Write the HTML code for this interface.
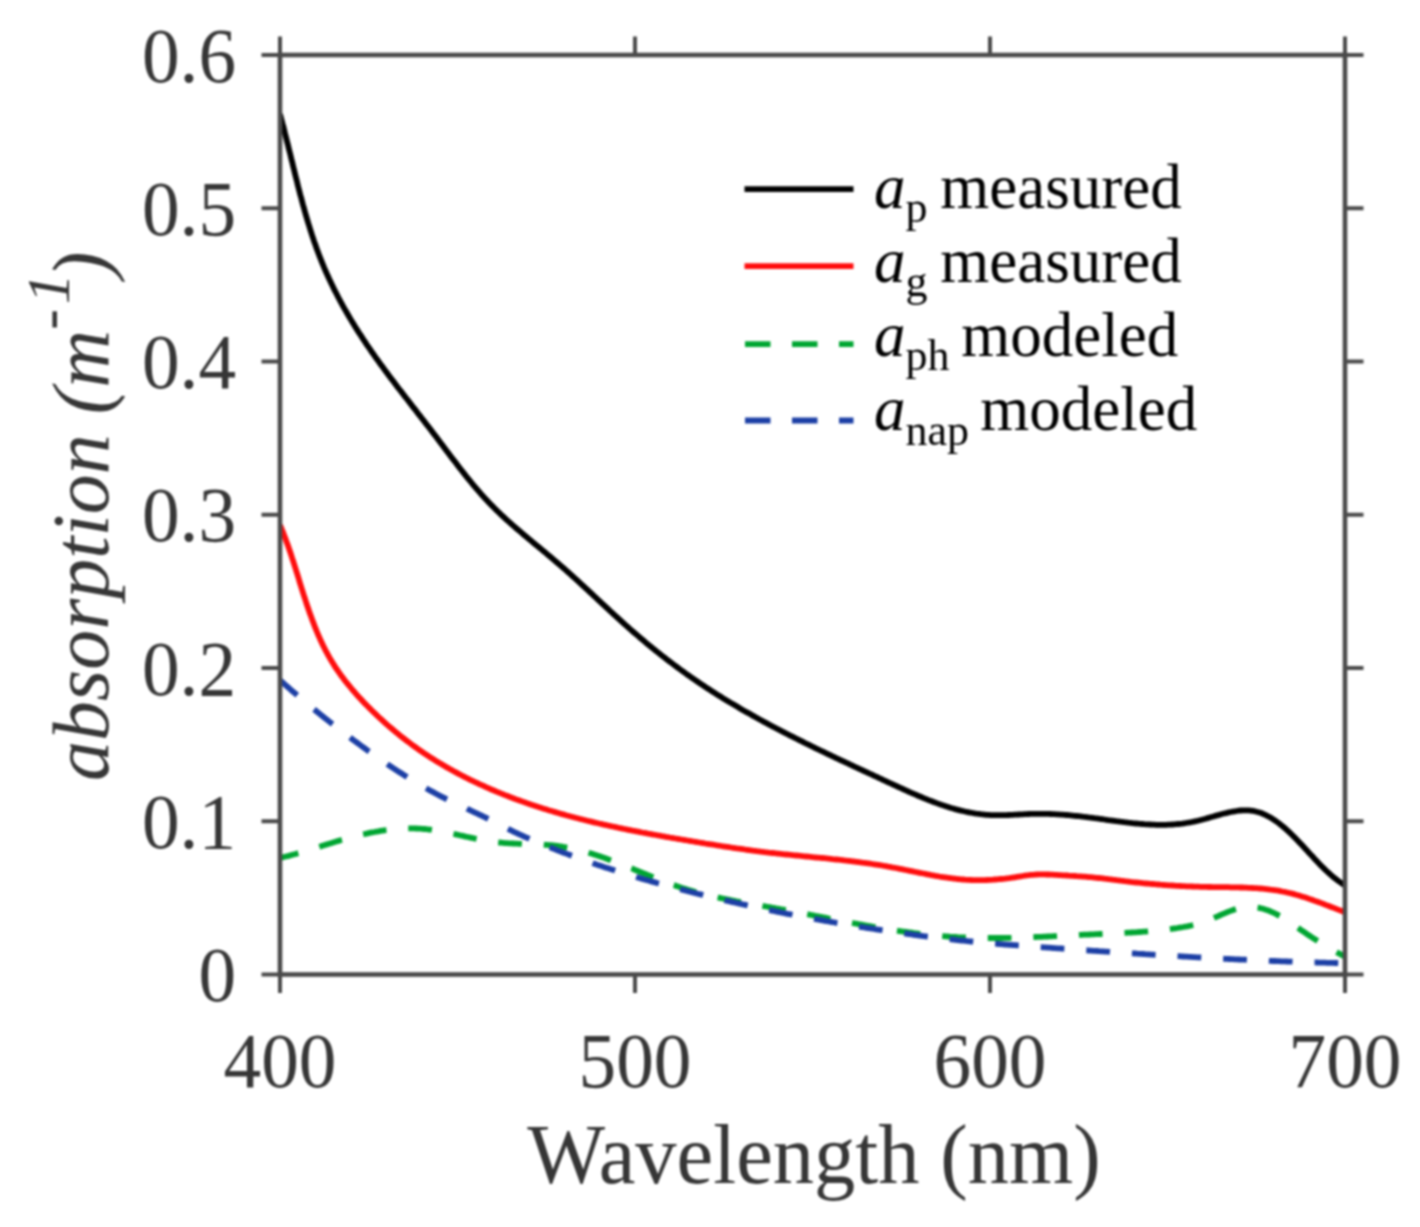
<!DOCTYPE html><html><head><meta charset="utf-8"><style>html,body{margin:0;padding:0;background:#fff;width:1420px;height:1227px;overflow:hidden}svg{display:block;filter:blur(1.1px)}text{font-family:"Liberation Serif",serif}</style></head><body>
<svg width="1420" height="1227" viewBox="0 0 1420 1227">
<rect width="1420" height="1227" fill="#fff"/>
<defs><clipPath id="c"><rect x="280.0" y="55.0" width="1065.0" height="919.5"/></clipPath></defs>
<g clip-path="url(#c)" fill="none" stroke-linejoin="round">
<path d="M279.9 857.9 L281.9 857.5 L283.8 857.0 L285.8 856.5 L287.7 856.1 L289.7 855.6 L291.6 855.0 L293.5 854.5 L295.5 854.0 L297.4 853.4 L299.3 852.9 L301.2 852.3 L303.2 851.8 L305.1 851.2 L307.0 850.6 L308.9 850.0 L310.8 849.4 L312.7 848.8 L314.6 848.2 L316.6 847.6 L318.5 847.0 L320.4 846.4 L322.3 845.8 L324.2 845.2 L326.1 844.6 L328.0 844.1 L329.9 843.5 L331.8 842.9 L333.8 842.3 L335.7 841.7 L337.6 841.1 L339.5 840.6 L341.4 840.0 L343.4 839.5 L345.3 838.9 L347.2 838.4 L349.2 837.9 L351.1 837.3 L353.0 836.8 L355.0 836.3 L356.9 835.8 L358.8 835.4 L360.8 834.9 L362.7 834.4 L364.7 834.0 L366.6 833.6 L368.6 833.1 L370.6 832.7 L372.5 832.3 L374.5 832.0 L376.5 831.6 L378.4 831.3 L380.4 830.9 L382.4 830.6 L384.4 830.3 L386.4 830.0 L388.3 829.8 L390.3 829.5 L392.3 829.3 L394.3 829.1 L396.3 829.0 L398.3 828.8 L400.3 828.7 L402.3 828.6 L404.3 828.5 L406.3 828.4 L408.3 828.4 L410.3 828.4 L412.3 828.4 L414.3 828.4 L416.3 828.5 L418.3 828.6 L420.3 828.7 L422.3 828.8 L424.3 829.0 L426.3 829.2 L428.3 829.5 L430.3 829.7 L432.2 830.0 L434.2 830.3 L436.2 830.6 L438.2 830.9 L440.1 831.3 L442.1 831.6 L444.1 832.0 L446.1 832.4 L448.0 832.8 L450.0 833.2 L451.9 833.6 L453.9 834.0 L455.9 834.4 L457.8 834.8 L459.8 835.3 L461.7 835.7 L463.7 836.1 L465.6 836.6 L467.6 837.0 L469.5 837.4 L471.5 837.8 L473.5 838.2 L475.4 838.7 L477.4 839.1 L479.3 839.4 L481.3 839.8 L483.3 840.2 L485.2 840.5 L487.2 840.9 L489.2 841.2 L491.2 841.5 L493.2 841.8 L495.1 842.1 L497.1 842.3 L499.1 842.5 L501.1 842.7 L503.1 842.9 L505.1 843.1 L507.1 843.2 L509.1 843.3 L511.1 843.4 L513.1 843.5 L515.1 843.6 L517.1 843.7 L519.1 843.8 L521.1 843.8 L523.1 843.9 L525.1 844.0 L527.1 844.0 L529.1 844.1 L531.1 844.1 L533.1 844.2 L535.1 844.3 L537.1 844.3 L539.1 844.4 L541.1 844.5 L543.1 844.6 L545.1 844.8 L547.1 844.9 L549.1 845.1 L551.1 845.2 L553.1 845.4 L555.1 845.6 L557.1 845.9 L559.0 846.2 L561.0 846.4 L563.0 846.8 L565.0 847.1 L566.9 847.5 L568.9 847.8 L570.9 848.2 L572.8 848.7 L574.8 849.1 L576.7 849.6 L578.7 850.0 L580.6 850.5 L582.6 851.0 L584.5 851.6 L586.4 852.1 L588.3 852.7 L590.3 853.3 L592.2 853.8 L594.1 854.5 L596.0 855.1 L597.9 855.7 L599.8 856.3 L601.7 857.0 L603.6 857.6 L605.4 858.3 L607.3 859.0 L609.2 859.7 L611.1 860.4 L613.0 861.1 L614.8 861.8 L616.7 862.5 L618.6 863.2 L620.4 864.0 L622.3 864.7 L624.2 865.4 L626.0 866.2 L627.9 866.9 L629.7 867.7 L631.6 868.4 L633.4 869.2 L635.3 870.0 L637.1 870.7 L639.0 871.5 L640.8 872.2 L642.7 873.0 L644.6 873.7 L646.4 874.5 L648.3 875.3 L650.1 876.0 L652.0 876.8 L653.8 877.5 L655.7 878.2 L657.6 879.0 L659.4 879.7 L661.3 880.4 L663.2 881.2 L665.0 881.9 L666.9 882.6 L668.8 883.3 L670.7 884.0 L672.5 884.7 L674.4 885.3 L676.3 886.0 L678.2 886.6 L680.1 887.3 L682.0 887.9 L683.9 888.5 L685.8 889.1 L687.7 889.7 L689.6 890.3 L691.6 890.9 L693.5 891.4 L695.4 892.0 L697.3 892.5 L699.3 893.0 L701.2 893.5 L703.1 894.0 L705.1 894.5 L707.0 895.0 L709.0 895.5 L710.9 895.9 L712.9 896.4 L714.8 896.8 L716.8 897.3 L718.7 897.7 L720.7 898.1 L722.7 898.5 L724.6 898.9 L726.6 899.3 L728.5 899.7 L730.5 900.1 L732.5 900.5 L734.4 900.9 L736.4 901.3 L738.4 901.6 L740.3 902.0 L742.3 902.4 L744.3 902.7 L746.2 903.1 L748.2 903.4 L750.2 903.8 L752.2 904.1 L754.1 904.5 L756.1 904.8 L758.1 905.2 L760.0 905.5 L762.0 905.8 L764.0 906.2 L766.0 906.5 L767.9 906.9 L769.9 907.2 L771.9 907.6 L773.9 907.9 L775.8 908.3 L777.8 908.6 L779.8 909.0 L781.7 909.4 L783.7 909.7 L785.7 910.1 L787.6 910.5 L789.6 910.8 L791.6 911.2 L793.5 911.6 L795.5 912.0 L797.5 912.3 L799.4 912.7 L801.4 913.1 L803.4 913.5 L805.3 913.8 L807.3 914.2 L809.3 914.6 L811.2 915.0 L813.2 915.4 L815.2 915.8 L817.1 916.1 L819.1 916.5 L821.1 916.9 L823.0 917.3 L825.0 917.7 L827.0 918.1 L828.9 918.5 L830.9 918.8 L832.8 919.2 L834.8 919.6 L836.8 920.0 L838.7 920.4 L840.7 920.7 L842.7 921.1 L844.6 921.5 L846.6 921.9 L848.6 922.2 L850.5 922.6 L852.5 923.0 L854.5 923.4 L856.4 923.7 L858.4 924.1 L860.4 924.4 L862.4 924.8 L864.3 925.2 L866.3 925.5 L868.3 925.9 L870.2 926.2 L872.2 926.6 L874.2 926.9 L876.2 927.3 L878.1 927.6 L880.1 927.9 L882.1 928.3 L884.0 928.6 L886.0 928.9 L888.0 929.2 L890.0 929.6 L892.0 929.9 L893.9 930.2 L895.9 930.5 L897.9 930.8 L899.9 931.1 L901.9 931.4 L903.8 931.6 L905.8 931.9 L907.8 932.2 L909.8 932.5 L911.8 932.7 L913.8 933.0 L915.7 933.3 L917.7 933.5 L919.7 933.8 L921.7 934.0 L923.7 934.2 L925.7 934.5 L927.7 934.7 L929.7 934.9 L931.6 935.1 L933.6 935.3 L935.6 935.5 L937.6 935.7 L939.6 935.9 L941.6 936.0 L943.6 936.2 L945.6 936.4 L947.6 936.5 L949.6 936.7 L951.6 936.8 L953.6 936.9 L955.6 937.0 L957.6 937.2 L959.6 937.3 L961.6 937.4 L963.6 937.5 L965.6 937.5 L967.6 937.6 L969.6 937.7 L971.6 937.7 L973.6 937.8 L975.6 937.9 L977.6 937.9 L979.6 937.9 L981.6 938.0 L983.6 938.0 L985.6 938.0 L987.6 938.0 L989.6 938.0 L991.6 938.0 L993.6 938.0 L995.6 938.0 L997.6 938.0 L999.6 938.0 L1001.6 938.0 L1003.6 937.9 L1005.6 937.9 L1007.6 937.9 L1009.6 937.8 L1011.6 937.8 L1013.6 937.7 L1015.6 937.7 L1017.6 937.6 L1019.6 937.6 L1021.6 937.5 L1023.6 937.5 L1025.6 937.4 L1027.6 937.3 L1029.6 937.2 L1031.6 937.2 L1033.6 937.1 L1035.6 937.0 L1037.6 936.9 L1039.6 936.8 L1041.6 936.8 L1043.6 936.7 L1045.6 936.6 L1047.6 936.5 L1049.6 936.4 L1051.6 936.3 L1053.6 936.2 L1055.6 936.1 L1057.6 936.0 L1059.6 935.9 L1061.6 935.8 L1063.6 935.7 L1065.6 935.6 L1067.6 935.5 L1069.6 935.4 L1071.6 935.3 L1073.6 935.2 L1075.6 935.1 L1077.6 935.0 L1079.6 934.9 L1081.6 934.8 L1083.6 934.7 L1085.6 934.7 L1087.6 934.6 L1089.6 934.5 L1091.6 934.4 L1093.6 934.3 L1095.6 934.2 L1097.6 934.1 L1099.6 934.0 L1101.6 934.0 L1103.6 933.9 L1105.6 933.8 L1107.6 933.7 L1109.6 933.6 L1111.6 933.5 L1113.6 933.4 L1115.6 933.3 L1117.6 933.3 L1119.6 933.2 L1121.6 933.1 L1123.6 933.0 L1125.6 932.9 L1127.6 932.7 L1129.6 932.6 L1131.6 932.5 L1133.6 932.4 L1135.6 932.3 L1137.6 932.1 L1139.6 932.0 L1141.6 931.9 L1143.6 931.7 L1145.6 931.6 L1147.6 931.4 L1149.6 931.2 L1151.6 931.1 L1153.6 930.9 L1155.6 930.7 L1157.6 930.5 L1159.6 930.3 L1161.6 930.1 L1163.6 929.8 L1165.5 929.6 L1167.5 929.3 L1169.5 929.1 L1171.5 928.8 L1173.5 928.5 L1175.5 928.3 L1177.4 928.0 L1179.4 927.6 L1181.4 927.3 L1183.4 927.0 L1185.3 926.6 L1187.3 926.3 L1189.3 925.9 L1191.2 925.5 L1193.2 925.0 L1195.1 924.6 L1197.1 924.0 L1199.0 923.5 L1200.9 922.9 L1202.8 922.3 L1204.7 921.7 L1206.6 921.0 L1208.5 920.2 L1210.3 919.5 L1212.2 918.7 L1214.0 917.9 L1215.8 917.1 L1217.7 916.3 L1219.5 915.5 L1221.3 914.7 L1223.2 913.9 L1225.0 913.1 L1226.9 912.3 L1228.7 911.6 L1230.6 910.9 L1232.5 910.2 L1234.4 909.6 L1236.3 909.0 L1238.2 908.5 L1240.2 908.0 L1242.1 907.6 L1244.1 907.3 L1246.1 907.1 L1248.1 907.0 L1250.1 906.9 L1252.1 907.0 L1254.1 907.2 L1256.1 907.4 L1258.1 907.7 L1260.0 908.1 L1262.0 908.5 L1263.9 909.1 L1265.8 909.7 L1267.7 910.3 L1269.6 911.0 L1271.4 911.8 L1273.3 912.6 L1275.1 913.5 L1276.8 914.4 L1278.6 915.4 L1280.4 916.3 L1282.1 917.4 L1283.8 918.4 L1285.5 919.5 L1287.2 920.5 L1288.8 921.6 L1290.5 922.7 L1292.2 923.9 L1293.8 925.0 L1295.5 926.1 L1297.1 927.3 L1298.8 928.4 L1300.4 929.6 L1302.1 930.7 L1303.7 931.8 L1305.4 932.9 L1307.0 934.1 L1308.7 935.2 L1310.4 936.3 L1312.0 937.4 L1313.7 938.5 L1315.4 939.5 L1317.1 940.6 L1318.8 941.7 L1320.5 942.7 L1322.2 943.8 L1323.9 944.8 L1325.6 945.9 L1327.3 946.9 L1329.1 947.9 L1330.8 948.9 L1332.5 949.9 L1334.3 950.9 L1336.0 951.8 L1337.8 952.8 L1339.6 953.7 L1341.3 954.7 L1343.1 955.6 L1344.9 956.5" stroke="#00a632" stroke-width="5.8" stroke-dasharray="23.72 21.89" stroke-dashoffset="-40.97"/>
<path d="M279.9 680.1 L281.4 681.4 L282.9 682.7 L284.4 684.1 L285.9 685.4 L287.4 686.7 L288.9 688.0 L290.4 689.4 L291.9 690.7 L293.4 692.0 L295.0 693.3 L296.5 694.6 L298.0 695.9 L299.5 697.2 L301.0 698.5 L302.6 699.8 L304.1 701.1 L305.6 702.4 L307.2 703.7 L308.7 704.9 L310.2 706.2 L311.8 707.5 L313.3 708.8 L314.9 710.0 L316.4 711.3 L318.0 712.6 L319.5 713.8 L321.1 715.1 L322.7 716.3 L324.2 717.6 L325.8 718.8 L327.4 720.1 L328.9 721.3 L330.5 722.5 L332.1 723.8 L333.7 725.0 L335.2 726.2 L336.8 727.5 L338.4 728.7 L340.0 729.9 L341.6 731.1 L343.2 732.3 L344.8 733.6 L346.4 734.8 L348.0 736.0 L349.6 737.2 L351.2 738.4 L352.8 739.6 L354.4 740.8 L356.0 741.9 L357.6 743.1 L359.2 744.3 L360.8 745.5 L362.4 746.7 L364.1 747.9 L365.7 749.0 L367.3 750.2 L368.9 751.4 L370.6 752.5 L372.2 753.7 L373.8 754.8 L375.5 756.0 L377.1 757.1 L378.7 758.3 L380.4 759.4 L382.0 760.6 L383.7 761.7 L385.3 762.8 L387.0 763.9 L388.7 765.1 L390.3 766.2 L392.0 767.3 L393.6 768.4 L395.3 769.5 L397.0 770.6 L398.7 771.7 L400.4 772.8 L402.0 773.8 L403.7 774.9 L405.4 776.0 L407.1 777.0 L408.8 778.1 L410.5 779.1 L412.2 780.2 L414.0 781.2 L415.7 782.2 L417.4 783.3 L419.1 784.3 L420.8 785.3 L422.6 786.3 L424.3 787.3 L426.1 788.3 L427.8 789.2 L429.6 790.2 L431.3 791.2 L433.1 792.1 L434.8 793.1 L436.6 794.0 L438.4 795.0 L440.1 795.9 L441.9 796.8 L443.7 797.7 L445.5 798.6 L447.3 799.5 L449.1 800.4 L450.9 801.2 L452.7 802.1 L454.5 803.0 L456.3 803.8 L458.1 804.7 L459.9 805.5 L461.7 806.4 L463.6 807.2 L465.4 808.0 L467.2 808.9 L469.0 809.7 L470.8 810.6 L472.6 811.4 L474.5 812.3 L476.3 813.1 L478.1 814.0 L479.9 814.8 L481.7 815.7 L483.5 816.6 L485.3 817.4 L487.1 818.3 L488.9 819.2 L490.7 820.1 L492.5 821.0 L494.2 821.9 L496.0 822.8 L497.8 823.7 L499.6 824.6 L501.4 825.6 L503.2 826.5 L504.9 827.4 L506.7 828.3 L508.5 829.2 L510.3 830.0 L512.1 830.9 L513.9 831.8 L515.7 832.6 L517.5 833.5 L519.4 834.3 L521.2 835.1 L523.0 836.0 L524.8 836.8 L526.7 837.6 L528.5 838.4 L530.3 839.2 L532.2 840.0 L534.0 840.8 L535.9 841.5 L537.7 842.3 L539.6 843.1 L541.4 843.9 L543.2 844.6 L545.1 845.4 L547.0 846.1 L548.8 846.9 L550.7 847.6 L552.5 848.4 L554.4 849.1 L556.3 849.8 L558.1 850.6 L560.0 851.3 L561.9 852.0 L563.7 852.7 L565.6 853.4 L567.5 854.1 L569.3 854.8 L571.2 855.5 L573.1 856.2 L575.0 856.9 L576.9 857.6 L578.7 858.3 L580.6 859.0 L582.5 859.6 L584.4 860.3 L586.3 861.0 L588.2 861.6 L590.1 862.3 L592.0 862.9 L593.8 863.6 L595.7 864.2 L597.6 864.9 L599.5 865.5 L601.4 866.1 L603.3 866.8 L605.2 867.4 L607.1 868.0 L609.0 868.6 L610.9 869.2 L612.9 869.8 L614.8 870.4 L616.7 871.1 L618.6 871.7 L620.5 872.2 L622.4 872.8 L624.3 873.4 L626.2 874.0 L628.1 874.6 L630.1 875.2 L632.0 875.8 L633.9 876.3 L635.8 876.9 L637.7 877.5 L639.6 878.0 L641.6 878.6 L643.5 879.2 L645.4 879.7 L647.3 880.3 L649.3 880.8 L651.2 881.4 L653.1 881.9 L655.0 882.4 L657.0 883.0 L658.9 883.5 L660.8 884.0 L662.8 884.6 L664.7 885.1 L666.6 885.6 L668.5 886.2 L670.5 886.7 L672.4 887.2 L674.3 887.7 L676.3 888.2 L678.2 888.7 L680.2 889.2 L682.1 889.7 L684.0 890.2 L686.0 890.7 L687.9 891.2 L689.8 891.7 L691.8 892.2 L693.7 892.7 L695.7 893.2 L697.6 893.7 L699.6 894.2 L701.5 894.6 L703.4 895.1 L705.4 895.6 L707.3 896.1 L709.3 896.6 L711.2 897.0 L713.2 897.5 L715.1 898.0 L717.1 898.4 L719.0 898.9 L720.9 899.3 L722.9 899.8 L724.8 900.3 L726.8 900.7 L728.7 901.2 L730.7 901.6 L732.6 902.1 L734.6 902.5 L736.5 903.0 L738.5 903.4 L740.5 903.8 L742.4 904.3 L744.4 904.7 L746.3 905.1 L748.3 905.6 L750.2 906.0 L752.2 906.4 L754.1 906.8 L756.1 907.3 L758.0 907.7 L760.0 908.1 L762.0 908.5 L763.9 908.9 L765.9 909.4 L767.8 909.8 L769.8 910.2 L771.8 910.6 L773.7 911.0 L775.7 911.4 L777.6 911.8 L779.6 912.2 L781.6 912.6 L783.5 913.0 L785.5 913.4 L787.4 913.8 L789.4 914.1 L791.4 914.5 L793.3 914.9 L795.3 915.3 L797.3 915.7 L799.2 916.1 L801.2 916.4 L803.2 916.8 L805.1 917.2 L807.1 917.5 L809.1 917.9 L811.0 918.3 L813.0 918.6 L815.0 919.0 L816.9 919.4 L818.9 919.7 L820.9 920.1 L822.8 920.4 L824.8 920.8 L826.8 921.1 L828.8 921.5 L830.7 921.8 L832.7 922.2 L834.7 922.5 L836.6 922.9 L838.6 923.2 L840.6 923.6 L842.6 923.9 L844.5 924.2 L846.5 924.6 L848.5 924.9 L850.5 925.2 L852.4 925.5 L854.4 925.9 L856.4 926.2 L858.4 926.5 L860.3 926.8 L862.3 927.2 L864.3 927.5 L866.3 927.8 L868.2 928.1 L870.2 928.4 L872.2 928.7 L874.2 929.0 L876.1 929.3 L878.1 929.6 L880.1 929.9 L882.1 930.2 L884.1 930.5 L886.0 930.8 L888.0 931.1 L890.0 931.4 L892.0 931.7 L894.0 932.0 L895.9 932.3 L897.9 932.6 L899.9 932.9 L901.9 933.1 L903.9 933.4 L905.8 933.7 L907.8 934.0 L909.8 934.2 L911.8 934.5 L913.8 934.8 L915.8 935.0 L917.7 935.3 L919.7 935.6 L921.7 935.8 L923.7 936.1 L925.7 936.3 L927.7 936.6 L929.7 936.8 L931.6 937.1 L933.6 937.3 L935.6 937.6 L937.6 937.8 L939.6 938.0 L941.6 938.3 L943.6 938.5 L945.6 938.7 L947.5 939.0 L949.5 939.2 L951.5 939.4 L953.5 939.6 L955.5 939.8 L957.5 940.1 L959.5 940.3 L961.5 940.5 L963.5 940.7 L965.5 940.9 L967.4 941.1 L969.4 941.3 L971.4 941.5 L973.4 941.7 L975.4 941.9 L977.4 942.0 L979.4 942.2 L981.4 942.4 L983.4 942.6 L985.4 942.8 L987.4 942.9 L989.4 943.1 L991.4 943.3 L993.4 943.5 L995.3 943.6 L997.3 943.8 L999.3 944.0 L1001.3 944.1 L1003.3 944.3 L1005.3 944.5 L1007.3 944.6 L1009.3 944.8 L1011.3 944.9 L1013.3 945.1 L1015.3 945.2 L1017.3 945.4 L1019.3 945.5 L1021.3 945.7 L1023.3 945.8 L1025.3 946.0 L1027.3 946.1 L1029.3 946.3 L1031.3 946.4 L1033.3 946.6 L1035.3 946.7 L1037.3 946.9 L1039.2 947.0 L1041.2 947.1 L1043.2 947.3 L1045.2 947.4 L1047.2 947.6 L1049.2 947.7 L1051.2 947.8 L1053.2 948.0 L1055.2 948.1 L1057.2 948.3 L1059.2 948.4 L1061.2 948.5 L1063.2 948.7 L1065.2 948.8 L1067.2 949.0 L1069.2 949.1 L1071.2 949.2 L1073.2 949.4 L1075.2 949.5 L1077.2 949.7 L1079.2 949.8 L1081.2 949.9 L1083.2 950.1 L1085.2 950.2 L1087.2 950.3 L1089.2 950.5 L1091.2 950.6 L1093.2 950.8 L1095.2 950.9 L1097.1 951.0 L1099.1 951.2 L1101.1 951.3 L1103.1 951.4 L1105.1 951.6 L1107.1 951.7 L1109.1 951.8 L1111.1 952.0 L1113.1 952.1 L1115.1 952.2 L1117.1 952.4 L1119.1 952.5 L1121.1 952.6 L1123.1 952.8 L1125.1 952.9 L1127.1 953.0 L1129.1 953.2 L1131.1 953.3 L1133.1 953.4 L1135.1 953.5 L1137.1 953.7 L1139.1 953.8 L1141.1 953.9 L1143.1 954.0 L1145.1 954.2 L1147.1 954.3 L1149.1 954.4 L1151.1 954.6 L1153.1 954.7 L1155.1 954.8 L1157.1 954.9 L1159.1 955.0 L1161.1 955.2 L1163.1 955.3 L1165.1 955.4 L1167.1 955.5 L1169.1 955.7 L1171.0 955.8 L1173.0 955.9 L1175.0 956.0 L1177.0 956.1 L1179.0 956.2 L1181.0 956.4 L1183.0 956.5 L1185.0 956.6 L1187.0 956.7 L1189.0 956.8 L1191.0 956.9 L1193.0 957.1 L1195.0 957.2 L1197.0 957.3 L1199.0 957.4 L1201.0 957.5 L1203.0 957.6 L1205.0 957.7 L1207.0 957.8 L1209.0 957.9 L1211.0 958.0 L1213.0 958.1 L1215.0 958.3 L1217.0 958.4 L1219.0 958.5 L1221.0 958.6 L1223.0 958.7 L1225.0 958.8 L1227.0 958.9 L1229.0 959.0 L1231.0 959.1 L1233.0 959.2 L1235.0 959.3 L1237.0 959.4 L1239.0 959.5 L1241.0 959.6 L1243.0 959.6 L1245.0 959.7 L1247.0 959.8 L1249.0 959.9 L1251.0 960.0 L1253.0 960.1 L1255.0 960.2 L1257.0 960.3 L1259.0 960.4 L1261.0 960.5 L1263.0 960.5 L1265.0 960.6 L1267.0 960.7 L1269.0 960.8 L1271.0 960.9 L1273.0 961.0 L1275.0 961.0 L1277.0 961.1 L1279.0 961.2 L1281.0 961.3 L1283.0 961.4 L1285.0 961.4 L1287.0 961.5 L1289.0 961.6 L1291.0 961.6 L1293.0 961.7 L1295.0 961.8 L1297.0 961.9 L1299.0 961.9 L1301.0 962.0 L1303.0 962.1 L1305.0 962.1 L1307.0 962.2 L1309.0 962.3 L1311.0 962.3 L1313.0 962.4 L1315.0 962.4 L1317.0 962.5 L1319.0 962.6 L1321.0 962.6 L1323.0 962.7 L1325.0 962.7 L1327.0 962.8 L1329.0 962.8 L1331.0 962.9 L1333.0 962.9 L1335.0 963.0 L1337.0 963.0 L1339.0 963.1 L1341.0 963.1 L1343.0 963.1 L1345.0 963.2" stroke="#1c3fa5" stroke-width="5.8" stroke-dasharray="23.77 21.95" stroke-dashoffset="-44.96"/>
<path d="M280.0 525.1 L280.8 526.9 L281.6 528.8 L282.3 530.6 L283.1 532.5 L283.8 534.4 L284.5 536.2 L285.2 538.1 L285.9 540.0 L286.6 541.9 L287.3 543.8 L288.0 545.6 L288.6 547.5 L289.3 549.4 L289.9 551.3 L290.6 553.2 L291.2 555.1 L291.8 557.0 L292.4 558.9 L293.1 560.8 L293.7 562.8 L294.3 564.7 L294.9 566.6 L295.5 568.5 L296.1 570.4 L296.7 572.3 L297.3 574.2 L297.9 576.1 L298.5 578.0 L299.1 580.0 L299.6 581.9 L300.2 583.8 L300.8 585.7 L301.4 587.6 L302.0 589.5 L302.6 591.4 L303.2 593.3 L303.8 595.2 L304.5 597.2 L305.1 599.1 L305.7 601.0 L306.3 602.9 L306.9 604.8 L307.6 606.7 L308.2 608.6 L308.9 610.5 L309.5 612.4 L310.2 614.2 L310.9 616.1 L311.6 618.0 L312.3 619.9 L313.0 621.8 L313.7 623.6 L314.4 625.5 L315.1 627.4 L315.9 629.2 L316.6 631.1 L317.4 632.9 L318.2 634.8 L319.0 636.6 L319.8 638.4 L320.6 640.3 L321.5 642.1 L322.3 643.9 L323.2 645.7 L324.1 647.5 L325.0 649.3 L325.9 651.1 L326.9 652.8 L327.8 654.6 L328.8 656.3 L329.8 658.1 L330.8 659.8 L331.8 661.5 L332.9 663.2 L333.9 664.9 L335.0 666.6 L336.1 668.3 L337.3 669.9 L338.4 671.6 L339.5 673.2 L340.7 674.9 L341.9 676.5 L343.1 678.1 L344.3 679.7 L345.5 681.3 L346.8 682.8 L348.0 684.4 L349.3 685.9 L350.6 687.5 L351.8 689.0 L353.1 690.6 L354.5 692.1 L355.8 693.6 L357.1 695.1 L358.4 696.6 L359.8 698.0 L361.2 699.5 L362.5 701.0 L363.9 702.4 L365.3 703.9 L366.7 705.3 L368.1 706.7 L369.5 708.1 L370.9 709.6 L372.4 711.0 L373.8 712.4 L375.2 713.7 L376.7 715.1 L378.1 716.5 L379.6 717.9 L381.1 719.2 L382.6 720.6 L384.0 721.9 L385.5 723.3 L387.0 724.6 L388.5 725.9 L390.1 727.2 L391.6 728.5 L393.1 729.8 L394.6 731.1 L396.2 732.4 L397.7 733.6 L399.3 734.9 L400.9 736.2 L402.4 737.4 L404.0 738.6 L405.6 739.9 L407.2 741.1 L408.8 742.3 L410.4 743.5 L412.0 744.7 L413.6 745.9 L415.2 747.0 L416.9 748.2 L418.5 749.4 L420.1 750.5 L421.8 751.6 L423.5 752.8 L425.1 753.9 L426.8 755.0 L428.5 756.1 L430.1 757.2 L431.8 758.3 L433.5 759.3 L435.2 760.4 L436.9 761.4 L438.6 762.5 L440.4 763.5 L442.1 764.5 L443.8 765.6 L445.5 766.6 L447.3 767.6 L449.0 768.6 L450.8 769.5 L452.5 770.5 L454.3 771.5 L456.0 772.4 L457.8 773.4 L459.6 774.3 L461.3 775.2 L463.1 776.2 L464.9 777.1 L466.7 778.0 L468.5 778.9 L470.3 779.8 L472.1 780.6 L473.9 781.5 L475.7 782.4 L477.5 783.2 L479.3 784.1 L481.1 784.9 L483.0 785.7 L484.8 786.5 L486.6 787.4 L488.4 788.2 L490.3 789.0 L492.1 789.8 L494.0 790.5 L495.8 791.3 L497.7 792.1 L499.5 792.8 L501.4 793.6 L503.2 794.3 L505.1 795.1 L507.0 795.8 L508.8 796.5 L510.7 797.3 L512.6 798.0 L514.5 798.7 L516.3 799.4 L518.2 800.0 L520.1 800.7 L522.0 801.4 L523.9 802.1 L525.8 802.7 L527.7 803.4 L529.5 804.0 L531.4 804.7 L533.3 805.3 L535.2 805.9 L537.2 806.6 L539.1 807.2 L541.0 807.8 L542.9 808.4 L544.8 809.0 L546.7 809.6 L548.6 810.2 L550.5 810.7 L552.5 811.3 L554.4 811.9 L556.3 812.4 L558.2 813.0 L560.1 813.6 L562.1 814.1 L564.0 814.6 L565.9 815.2 L567.9 815.7 L569.8 816.2 L571.7 816.7 L573.7 817.2 L575.6 817.8 L577.6 818.3 L579.5 818.8 L581.4 819.2 L583.4 819.7 L585.3 820.2 L587.3 820.7 L589.2 821.2 L591.2 821.6 L593.1 822.1 L595.1 822.6 L597.0 823.0 L599.0 823.5 L600.9 823.9 L602.9 824.4 L604.8 824.8 L606.8 825.2 L608.7 825.7 L610.7 826.1 L612.6 826.5 L614.6 826.9 L616.6 827.3 L618.5 827.8 L620.5 828.2 L622.4 828.6 L624.4 829.0 L626.4 829.4 L628.3 829.8 L630.3 830.2 L632.3 830.6 L634.2 830.9 L636.2 831.3 L638.2 831.7 L640.1 832.1 L642.1 832.5 L644.1 832.8 L646.0 833.2 L648.0 833.6 L650.0 833.9 L651.9 834.3 L653.9 834.7 L655.9 835.0 L657.9 835.4 L659.8 835.7 L661.8 836.1 L663.8 836.4 L665.7 836.8 L667.7 837.1 L669.7 837.5 L671.7 837.8 L673.6 838.2 L675.6 838.5 L677.6 838.8 L679.6 839.2 L681.5 839.5 L683.5 839.8 L685.5 840.2 L687.5 840.5 L689.4 840.8 L691.4 841.2 L693.4 841.5 L695.4 841.8 L697.3 842.2 L699.3 842.5 L701.3 842.8 L703.3 843.1 L705.2 843.5 L707.2 843.8 L709.2 844.1 L711.2 844.4 L713.2 844.7 L715.1 845.0 L717.1 845.4 L719.1 845.7 L721.1 846.0 L723.1 846.3 L725.0 846.6 L727.0 846.9 L729.0 847.2 L731.0 847.5 L733.0 847.8 L734.9 848.1 L736.9 848.4 L738.9 848.6 L740.9 848.9 L742.9 849.2 L744.9 849.5 L746.8 849.8 L748.8 850.0 L750.8 850.3 L752.8 850.6 L754.8 850.8 L756.8 851.1 L758.8 851.3 L760.7 851.6 L762.7 851.8 L764.7 852.1 L766.7 852.3 L768.7 852.6 L770.7 852.8 L772.7 853.0 L774.7 853.2 L776.7 853.5 L778.6 853.7 L780.6 853.9 L782.6 854.1 L784.6 854.3 L786.6 854.5 L788.6 854.7 L790.6 854.9 L792.6 855.1 L794.6 855.3 L796.6 855.5 L798.6 855.7 L800.6 855.9 L802.6 856.1 L804.6 856.3 L806.5 856.5 L808.5 856.7 L810.5 856.9 L812.5 857.1 L814.5 857.3 L816.5 857.5 L818.5 857.6 L820.5 857.8 L822.5 858.0 L824.5 858.2 L826.5 858.4 L828.5 858.6 L830.5 858.8 L832.5 859.1 L834.5 859.3 L836.4 859.5 L838.4 859.7 L840.4 859.9 L842.4 860.1 L844.4 860.4 L846.4 860.6 L848.4 860.8 L850.4 861.0 L852.4 861.3 L854.4 861.5 L856.3 861.8 L858.3 862.0 L860.3 862.3 L862.3 862.6 L864.3 862.8 L866.3 863.1 L868.3 863.4 L870.2 863.7 L872.2 864.0 L874.2 864.3 L876.2 864.6 L878.2 864.9 L880.1 865.2 L882.1 865.5 L884.1 865.9 L886.1 866.2 L888.0 866.6 L890.0 866.9 L892.0 867.3 L893.9 867.6 L895.9 868.0 L897.9 868.4 L899.8 868.8 L901.8 869.2 L903.8 869.6 L905.7 870.0 L907.7 870.4 L909.7 870.8 L911.6 871.2 L913.6 871.6 L915.5 872.0 L917.5 872.4 L919.5 872.8 L921.4 873.2 L923.4 873.5 L925.4 873.9 L927.3 874.3 L929.3 874.7 L931.3 875.1 L933.2 875.4 L935.2 875.8 L937.2 876.1 L939.2 876.5 L941.1 876.8 L943.1 877.1 L945.1 877.4 L947.1 877.7 L949.1 878.0 L951.0 878.2 L953.0 878.5 L955.0 878.7 L957.0 879.0 L959.0 879.2 L961.0 879.4 L963.0 879.5 L965.0 879.7 L967.0 879.8 L969.0 879.9 L971.0 880.0 L973.0 880.1 L975.0 880.1 L977.0 880.2 L979.0 880.2 L981.0 880.2 L983.0 880.1 L985.0 880.1 L987.0 880.0 L989.0 879.9 L991.0 879.8 L993.0 879.7 L995.0 879.5 L997.0 879.4 L999.0 879.2 L1001.0 879.0 L1003.0 878.8 L1005.0 878.6 L1007.0 878.3 L1009.0 878.1 L1010.9 877.8 L1012.9 877.5 L1014.9 877.3 L1016.9 876.9 L1018.9 876.6 L1020.8 876.3 L1022.8 876.0 L1024.8 875.7 L1026.8 875.4 L1028.8 875.2 L1030.8 874.9 L1032.8 874.8 L1034.8 874.6 L1036.8 874.5 L1038.8 874.4 L1040.8 874.4 L1042.8 874.4 L1044.8 874.4 L1046.8 874.5 L1048.8 874.5 L1050.8 874.6 L1052.8 874.7 L1054.8 874.8 L1056.8 874.9 L1058.8 875.1 L1060.8 875.2 L1062.8 875.3 L1064.8 875.4 L1066.8 875.5 L1068.8 875.7 L1070.8 875.8 L1072.8 875.9 L1074.8 876.0 L1076.8 876.2 L1078.8 876.3 L1080.8 876.4 L1082.8 876.6 L1084.8 876.7 L1086.8 876.9 L1088.7 877.1 L1090.7 877.2 L1092.7 877.4 L1094.7 877.6 L1096.7 877.8 L1098.7 878.0 L1100.7 878.2 L1102.7 878.4 L1104.7 878.7 L1106.7 878.9 L1108.7 879.2 L1110.7 879.4 L1112.6 879.7 L1114.6 879.9 L1116.6 880.2 L1118.6 880.4 L1120.6 880.7 L1122.6 880.9 L1124.6 881.2 L1126.6 881.4 L1128.5 881.6 L1130.5 881.9 L1132.5 882.1 L1134.5 882.3 L1136.5 882.5 L1138.5 882.7 L1140.5 882.9 L1142.5 883.1 L1144.5 883.3 L1146.5 883.5 L1148.5 883.7 L1150.5 883.9 L1152.5 884.0 L1154.5 884.2 L1156.5 884.4 L1158.4 884.5 L1160.4 884.7 L1162.4 884.8 L1164.4 885.0 L1166.4 885.1 L1168.4 885.3 L1170.4 885.4 L1172.4 885.5 L1174.4 885.6 L1176.4 885.8 L1178.4 885.9 L1180.4 886.0 L1182.4 886.1 L1184.4 886.2 L1186.4 886.3 L1188.4 886.4 L1190.4 886.4 L1192.4 886.5 L1194.4 886.6 L1196.4 886.7 L1198.4 886.7 L1200.5 886.8 L1202.5 886.8 L1204.5 886.9 L1206.5 886.9 L1208.5 887.0 L1210.5 887.0 L1212.5 887.1 L1214.5 887.1 L1216.5 887.1 L1218.5 887.1 L1220.5 887.2 L1222.5 887.2 L1224.5 887.2 L1226.5 887.2 L1228.5 887.2 L1230.5 887.3 L1232.5 887.3 L1234.5 887.3 L1236.5 887.4 L1238.5 887.4 L1240.5 887.5 L1242.5 887.5 L1244.5 887.6 L1246.5 887.7 L1248.5 887.8 L1250.5 887.9 L1252.5 888.0 L1254.5 888.1 L1256.5 888.2 L1258.5 888.4 L1260.5 888.5 L1262.5 888.7 L1264.5 888.9 L1266.5 889.1 L1268.5 889.3 L1270.5 889.6 L1272.5 889.8 L1274.4 890.1 L1276.4 890.4 L1278.4 890.7 L1280.4 891.1 L1282.3 891.5 L1284.3 891.8 L1286.3 892.3 L1288.2 892.7 L1290.2 893.2 L1292.1 893.6 L1294.0 894.1 L1296.0 894.7 L1297.9 895.2 L1299.8 895.8 L1301.7 896.4 L1303.7 897.0 L1305.6 897.6 L1307.5 898.2 L1309.4 898.9 L1311.3 899.5 L1313.1 900.2 L1315.0 900.9 L1316.9 901.5 L1318.8 902.2 L1320.7 902.9 L1322.5 903.6 L1324.4 904.3 L1326.3 905.1 L1328.2 905.8 L1330.0 906.5 L1331.9 907.2 L1333.8 907.9 L1335.6 908.6 L1337.5 909.4 L1339.4 910.1 L1341.3 910.8 L1343.1 911.5 L1345.0 912.2" stroke="#ff0d0d" stroke-width="5.8"/>
<path d="M279.9 114.1 L280.5 116.0 L281.0 118.0 L281.5 119.9 L282.0 121.8 L282.5 123.8 L283.1 125.7 L283.6 127.6 L284.1 129.6 L284.6 131.5 L285.0 133.4 L285.5 135.4 L286.0 137.3 L286.5 139.3 L287.0 141.2 L287.5 143.2 L288.0 145.1 L288.4 147.0 L288.9 149.0 L289.4 150.9 L289.9 152.9 L290.4 154.8 L290.8 156.8 L291.3 158.7 L291.8 160.7 L292.3 162.6 L292.7 164.5 L293.2 166.5 L293.7 168.4 L294.2 170.4 L294.6 172.3 L295.1 174.3 L295.6 176.2 L296.1 178.2 L296.6 180.1 L297.1 182.0 L297.5 184.0 L298.0 185.9 L298.5 187.9 L299.0 189.8 L299.5 191.7 L300.0 193.7 L300.5 195.6 L301.1 197.5 L301.6 199.5 L302.1 201.4 L302.6 203.4 L303.1 205.3 L303.7 207.2 L304.2 209.1 L304.7 211.1 L305.3 213.0 L305.8 214.9 L306.4 216.8 L307.0 218.8 L307.5 220.7 L308.1 222.6 L308.7 224.5 L309.3 226.4 L309.9 228.3 L310.5 230.3 L311.1 232.2 L311.7 234.1 L312.3 236.0 L313.0 237.9 L313.6 239.8 L314.2 241.7 L314.9 243.6 L315.6 245.4 L316.2 247.3 L316.9 249.2 L317.6 251.1 L318.3 253.0 L319.0 254.8 L319.7 256.7 L320.5 258.6 L321.2 260.4 L321.9 262.3 L322.7 264.1 L323.5 266.0 L324.2 267.8 L325.0 269.7 L325.8 271.5 L326.6 273.3 L327.5 275.2 L328.3 277.0 L329.1 278.8 L330.0 280.6 L330.8 282.4 L331.7 284.2 L332.6 286.0 L333.4 287.8 L334.3 289.6 L335.2 291.4 L336.2 293.2 L337.1 295.0 L338.0 296.8 L338.9 298.5 L339.9 300.3 L340.8 302.1 L341.8 303.8 L342.7 305.6 L343.7 307.3 L344.7 309.1 L345.7 310.8 L346.7 312.5 L347.7 314.3 L348.7 316.0 L349.7 317.7 L350.7 319.4 L351.8 321.2 L352.8 322.9 L353.9 324.6 L354.9 326.3 L356.0 328.0 L357.0 329.7 L358.1 331.4 L359.2 333.1 L360.3 334.7 L361.4 336.4 L362.5 338.1 L363.6 339.8 L364.7 341.4 L365.8 343.1 L366.9 344.8 L368.0 346.4 L369.2 348.1 L370.3 349.7 L371.4 351.4 L372.6 353.0 L373.7 354.6 L374.9 356.3 L376.0 357.9 L377.2 359.5 L378.4 361.2 L379.5 362.8 L380.7 364.4 L381.9 366.0 L383.1 367.6 L384.3 369.3 L385.5 370.9 L386.7 372.5 L387.8 374.1 L389.0 375.7 L390.2 377.3 L391.4 378.9 L392.7 380.5 L393.9 382.1 L395.1 383.7 L396.3 385.3 L397.5 386.9 L398.7 388.5 L399.9 390.0 L401.2 391.6 L402.4 393.2 L403.6 394.8 L404.8 396.4 L406.1 398.0 L407.3 399.5 L408.5 401.1 L409.7 402.7 L411.0 404.3 L412.2 405.9 L413.4 407.5 L414.7 409.0 L415.9 410.6 L417.1 412.2 L418.3 413.8 L419.6 415.4 L420.8 416.9 L422.0 418.5 L423.3 420.1 L424.5 421.7 L425.7 423.3 L426.9 424.9 L428.2 426.4 L429.4 428.0 L430.6 429.6 L431.8 431.2 L433.0 432.8 L434.2 434.4 L435.5 436.0 L436.7 437.6 L437.9 439.2 L439.1 440.8 L440.3 442.4 L441.5 444.0 L442.7 445.6 L443.9 447.2 L445.1 448.8 L446.3 450.4 L447.5 452.0 L448.7 453.6 L449.9 455.2 L451.1 456.8 L452.3 458.4 L453.5 459.9 L454.8 461.5 L456.0 463.1 L457.2 464.7 L458.4 466.3 L459.6 467.9 L460.9 469.5 L462.1 471.0 L463.3 472.6 L464.6 474.2 L465.8 475.8 L467.1 477.3 L468.3 478.9 L469.6 480.4 L470.9 482.0 L472.1 483.5 L473.4 485.1 L474.7 486.6 L476.0 488.1 L477.3 489.7 L478.6 491.2 L479.9 492.7 L481.2 494.2 L482.6 495.7 L483.9 497.2 L485.3 498.6 L486.6 500.1 L488.0 501.6 L489.4 503.0 L490.8 504.5 L492.2 505.9 L493.6 507.3 L495.0 508.7 L496.4 510.1 L497.8 511.5 L499.3 512.9 L500.7 514.3 L502.2 515.7 L503.7 517.0 L505.1 518.4 L506.6 519.8 L508.1 521.1 L509.6 522.4 L511.1 523.8 L512.6 525.1 L514.1 526.4 L515.6 527.7 L517.1 529.0 L518.6 530.3 L520.2 531.6 L521.7 532.9 L523.2 534.2 L524.7 535.5 L526.3 536.8 L527.8 538.1 L529.4 539.4 L530.9 540.6 L532.4 541.9 L534.0 543.2 L535.5 544.5 L537.1 545.8 L538.6 547.0 L540.1 548.3 L541.7 549.6 L543.2 550.9 L544.8 552.1 L546.3 553.4 L547.8 554.7 L549.4 556.0 L550.9 557.3 L552.4 558.6 L554.0 559.9 L555.5 561.2 L557.0 562.5 L558.5 563.8 L560.0 565.1 L561.6 566.4 L563.1 567.7 L564.6 569.0 L566.1 570.4 L567.6 571.7 L569.1 573.0 L570.6 574.4 L572.0 575.7 L573.5 577.0 L575.0 578.4 L576.5 579.7 L578.0 581.1 L579.4 582.4 L580.9 583.8 L582.4 585.2 L583.9 586.5 L585.3 587.9 L586.8 589.2 L588.3 590.6 L589.7 592.0 L591.2 593.3 L592.7 594.7 L594.1 596.1 L595.6 597.4 L597.0 598.8 L598.5 600.2 L600.0 601.5 L601.4 602.9 L602.9 604.3 L604.4 605.6 L605.8 607.0 L607.3 608.3 L608.8 609.7 L610.2 611.1 L611.7 612.4 L613.2 613.8 L614.6 615.1 L616.1 616.5 L617.6 617.8 L619.1 619.2 L620.6 620.5 L622.0 621.9 L623.5 623.2 L625.0 624.6 L626.5 625.9 L628.0 627.2 L629.5 628.6 L631.0 629.9 L632.5 631.2 L634.0 632.5 L635.5 633.8 L637.1 635.1 L638.6 636.4 L640.1 637.7 L641.6 639.0 L643.2 640.3 L644.7 641.6 L646.2 642.9 L647.8 644.2 L649.3 645.4 L650.9 646.7 L652.4 648.0 L654.0 649.2 L655.5 650.5 L657.1 651.8 L658.7 653.0 L660.2 654.2 L661.8 655.5 L663.4 656.7 L665.0 657.9 L666.5 659.2 L668.1 660.4 L669.7 661.6 L671.3 662.8 L672.9 664.0 L674.5 665.2 L676.1 666.4 L677.7 667.6 L679.3 668.8 L680.9 670.0 L682.6 671.2 L684.2 672.3 L685.8 673.5 L687.4 674.7 L689.1 675.8 L690.7 677.0 L692.4 678.1 L694.0 679.3 L695.7 680.4 L697.3 681.5 L699.0 682.7 L700.6 683.8 L702.3 684.9 L704.0 686.0 L705.6 687.1 L707.3 688.2 L709.0 689.3 L710.7 690.4 L712.3 691.5 L714.0 692.5 L715.7 693.6 L717.4 694.7 L719.1 695.7 L720.8 696.8 L722.5 697.9 L724.2 698.9 L725.9 700.0 L727.6 701.0 L729.3 702.0 L731.1 703.1 L732.8 704.1 L734.5 705.1 L736.2 706.1 L737.9 707.1 L739.7 708.2 L741.4 709.2 L743.1 710.2 L744.9 711.2 L746.6 712.2 L748.4 713.1 L750.1 714.1 L751.8 715.1 L753.6 716.1 L755.3 717.1 L757.1 718.0 L758.8 719.0 L760.6 720.0 L762.4 720.9 L764.1 721.9 L765.9 722.8 L767.6 723.8 L769.4 724.7 L771.2 725.7 L772.9 726.6 L774.7 727.5 L776.5 728.5 L778.3 729.4 L780.0 730.3 L781.8 731.2 L783.6 732.2 L785.4 733.1 L787.2 734.0 L788.9 734.9 L790.7 735.8 L792.5 736.7 L794.3 737.6 L796.1 738.5 L797.9 739.4 L799.7 740.3 L801.5 741.2 L803.3 742.1 L805.0 743.0 L806.8 743.9 L808.6 744.7 L810.4 745.6 L812.2 746.5 L814.0 747.4 L815.8 748.3 L817.6 749.1 L819.4 750.0 L821.2 750.9 L823.0 751.7 L824.9 752.6 L826.7 753.5 L828.5 754.3 L830.3 755.2 L832.1 756.1 L833.9 756.9 L835.7 757.8 L837.5 758.6 L839.3 759.5 L841.1 760.3 L842.9 761.2 L844.8 762.0 L846.6 762.9 L848.4 763.7 L850.2 764.6 L852.0 765.4 L853.8 766.3 L855.6 767.1 L857.5 768.0 L859.3 768.8 L861.1 769.7 L862.9 770.5 L864.7 771.3 L866.5 772.2 L868.3 773.0 L870.2 773.9 L872.0 774.7 L873.8 775.6 L875.6 776.4 L877.4 777.2 L879.2 778.1 L881.1 778.9 L882.9 779.8 L884.7 780.6 L886.5 781.5 L888.3 782.3 L890.1 783.1 L892.0 784.0 L893.8 784.8 L895.6 785.7 L897.4 786.5 L899.2 787.3 L901.1 788.2 L902.9 789.0 L904.7 789.8 L906.5 790.7 L908.3 791.5 L910.2 792.3 L912.0 793.1 L913.8 793.9 L915.7 794.7 L917.5 795.5 L919.4 796.3 L921.2 797.0 L923.1 797.8 L924.9 798.6 L926.8 799.3 L928.6 800.1 L930.5 800.8 L932.4 801.5 L934.2 802.2 L936.1 802.9 L938.0 803.6 L939.9 804.3 L941.8 804.9 L943.7 805.6 L945.6 806.2 L947.5 806.8 L949.4 807.4 L951.3 808.0 L953.2 808.5 L955.2 809.1 L957.1 809.6 L959.0 810.1 L961.0 810.6 L962.9 811.0 L964.9 811.5 L966.8 811.9 L968.8 812.3 L970.8 812.7 L972.7 813.0 L974.7 813.4 L976.7 813.7 L978.7 813.9 L980.7 814.2 L982.6 814.4 L984.6 814.6 L986.6 814.8 L988.6 814.9 L990.6 815.1 L992.6 815.1 L994.6 815.2 L996.6 815.2 L998.6 815.2 L1000.6 815.2 L1002.6 815.2 L1004.6 815.1 L1006.6 815.1 L1008.6 815.0 L1010.6 814.9 L1012.6 814.8 L1014.6 814.7 L1016.6 814.6 L1018.6 814.5 L1020.6 814.4 L1022.6 814.3 L1024.6 814.2 L1026.6 814.1 L1028.6 814.0 L1030.6 813.9 L1032.6 813.9 L1034.6 813.8 L1036.6 813.8 L1038.6 813.8 L1040.6 813.8 L1042.6 813.8 L1044.6 813.8 L1046.6 813.9 L1048.6 813.9 L1050.6 814.0 L1052.6 814.1 L1054.6 814.2 L1056.6 814.3 L1058.6 814.4 L1060.6 814.6 L1062.6 814.7 L1064.6 814.9 L1066.6 815.0 L1068.6 815.2 L1070.6 815.4 L1072.6 815.6 L1074.6 815.8 L1076.6 816.0 L1078.6 816.2 L1080.6 816.4 L1082.6 816.7 L1084.6 816.9 L1086.5 817.1 L1088.5 817.4 L1090.5 817.6 L1092.5 817.9 L1094.5 818.2 L1096.5 818.4 L1098.5 818.7 L1100.4 819.0 L1102.4 819.2 L1104.4 819.5 L1106.4 819.8 L1108.4 820.1 L1110.4 820.3 L1112.3 820.6 L1114.3 820.9 L1116.3 821.2 L1118.3 821.4 L1120.3 821.7 L1122.3 821.9 L1124.2 822.2 L1126.2 822.4 L1128.2 822.7 L1130.2 822.9 L1132.2 823.1 L1134.2 823.3 L1136.2 823.5 L1138.2 823.7 L1140.2 823.9 L1142.2 824.0 L1144.2 824.2 L1146.2 824.3 L1148.2 824.4 L1150.2 824.5 L1152.2 824.6 L1154.2 824.7 L1156.2 824.8 L1158.2 824.8 L1160.2 824.8 L1162.2 824.8 L1164.2 824.8 L1166.2 824.8 L1168.2 824.7 L1170.2 824.6 L1172.2 824.5 L1174.2 824.4 L1176.2 824.2 L1178.2 824.0 L1180.2 823.8 L1182.1 823.6 L1184.1 823.3 L1186.1 823.0 L1188.1 822.7 L1190.1 822.4 L1192.0 822.0 L1194.0 821.6 L1195.9 821.2 L1197.9 820.7 L1199.8 820.2 L1201.8 819.7 L1203.7 819.2 L1205.6 818.7 L1207.6 818.1 L1209.5 817.6 L1211.4 817.0 L1213.3 816.5 L1215.3 815.9 L1217.2 815.4 L1219.1 814.9 L1221.1 814.3 L1223.0 813.8 L1224.9 813.3 L1226.9 812.9 L1228.8 812.4 L1230.8 812.0 L1232.8 811.6 L1234.7 811.3 L1236.7 811.0 L1238.7 810.7 L1240.7 810.5 L1242.7 810.4 L1244.7 810.3 L1246.7 810.4 L1248.7 810.4 L1250.7 810.6 L1252.7 810.9 L1254.6 811.2 L1256.6 811.7 L1258.5 812.2 L1260.4 812.8 L1262.3 813.5 L1264.1 814.3 L1266.0 815.2 L1267.7 816.1 L1269.5 817.0 L1271.2 818.0 L1272.9 819.1 L1274.6 820.2 L1276.2 821.3 L1277.9 822.5 L1279.5 823.7 L1281.0 825.0 L1282.6 826.2 L1284.1 827.5 L1285.6 828.8 L1287.1 830.2 L1288.6 831.5 L1290.0 832.9 L1291.5 834.3 L1292.9 835.7 L1294.3 837.1 L1295.7 838.5 L1297.1 840.0 L1298.5 841.4 L1299.9 842.9 L1301.2 844.3 L1302.6 845.8 L1304.0 847.3 L1305.3 848.7 L1306.7 850.2 L1308.0 851.7 L1309.4 853.2 L1310.7 854.6 L1312.1 856.1 L1313.5 857.6 L1314.8 859.1 L1316.2 860.5 L1317.6 862.0 L1318.9 863.4 L1320.3 864.9 L1321.7 866.3 L1323.2 867.7 L1324.6 869.1 L1326.0 870.5 L1327.5 871.9 L1329.0 873.2 L1330.5 874.6 L1332.0 875.9 L1333.5 877.2 L1335.1 878.4 L1336.6 879.6 L1338.2 880.8 L1339.9 882.0 L1341.5 883.1 L1343.2 884.2 L1344.9 885.2" stroke="#000" stroke-width="5.8"/>
</g>
<g stroke="#4a4a4a" fill="none">
<rect x="280.0" y="55.0" width="1065.0" height="919.5" stroke-width="4.6"/>
<line x1="261.5" y1="974.50" x2="280.0" y2="974.50" stroke-width="4.0"/>
<line x1="1345.0" y1="974.50" x2="1363.5" y2="974.50" stroke-width="4.0"/>
<line x1="261.5" y1="821.25" x2="280.0" y2="821.25" stroke-width="4.0"/>
<line x1="1345.0" y1="821.25" x2="1363.5" y2="821.25" stroke-width="4.0"/>
<line x1="261.5" y1="668.00" x2="280.0" y2="668.00" stroke-width="4.0"/>
<line x1="1345.0" y1="668.00" x2="1363.5" y2="668.00" stroke-width="4.0"/>
<line x1="261.5" y1="514.75" x2="280.0" y2="514.75" stroke-width="4.0"/>
<line x1="1345.0" y1="514.75" x2="1363.5" y2="514.75" stroke-width="4.0"/>
<line x1="261.5" y1="361.50" x2="280.0" y2="361.50" stroke-width="4.0"/>
<line x1="1345.0" y1="361.50" x2="1363.5" y2="361.50" stroke-width="4.0"/>
<line x1="261.5" y1="208.25" x2="280.0" y2="208.25" stroke-width="4.0"/>
<line x1="1345.0" y1="208.25" x2="1363.5" y2="208.25" stroke-width="4.0"/>
<line x1="261.5" y1="55.00" x2="280.0" y2="55.00" stroke-width="4.0"/>
<line x1="1345.0" y1="55.00" x2="1363.5" y2="55.00" stroke-width="4.0"/>
<line x1="280.00" y1="974.5" x2="280.00" y2="993.0" stroke-width="4.0"/>
<line x1="280.00" y1="36.5" x2="280.00" y2="55.0" stroke-width="4.0"/>
<line x1="635.00" y1="974.5" x2="635.00" y2="993.0" stroke-width="4.0"/>
<line x1="635.00" y1="36.5" x2="635.00" y2="55.0" stroke-width="4.0"/>
<line x1="990.00" y1="974.5" x2="990.00" y2="993.0" stroke-width="4.0"/>
<line x1="990.00" y1="36.5" x2="990.00" y2="55.0" stroke-width="4.0"/>
<line x1="1345.00" y1="974.5" x2="1345.00" y2="993.0" stroke-width="4.0"/>
<line x1="1345.00" y1="36.5" x2="1345.00" y2="55.0" stroke-width="4.0"/>
</g>
<g fill="#363636" font-size="78">
<text transform="translate(236.0 1001.0) scale(0.965 1)" text-anchor="end">0</text>
<text transform="translate(236.0 847.8) scale(0.965 1)" text-anchor="end">0.1</text>
<text transform="translate(236.0 694.5) scale(0.965 1)" text-anchor="end">0.2</text>
<text transform="translate(236.0 541.2) scale(0.965 1)" text-anchor="end">0.3</text>
<text transform="translate(236.0 388.0) scale(0.965 1)" text-anchor="end">0.4</text>
<text transform="translate(236.0 234.8) scale(0.965 1)" text-anchor="end">0.5</text>
<text transform="translate(236.0 81.5) scale(0.965 1)" text-anchor="end">0.6</text>
<text transform="translate(280.0 1087.0) scale(0.965 1)" text-anchor="middle">400</text>
<text transform="translate(635.0 1087.0) scale(0.965 1)" text-anchor="middle">500</text>
<text transform="translate(990.0 1087.0) scale(0.965 1)" text-anchor="middle">600</text>
<text transform="translate(1345.0 1087.0) scale(0.965 1)" text-anchor="middle">700</text>
</g>
<text transform="translate(814.0 1182.5) scale(0.983 1)" text-anchor="middle" font-size="84" fill="#363636">Wavelength (nm)</text>
<text transform="translate(108.0 781.0) rotate(-90)" text-anchor="start" font-size="80" fill="#363636" font-style="italic">absorption (m<tspan font-size="62" dy="-39.5" dx="0.0">-</tspan><tspan font-size="62" dx="5.0">1</tspan><tspan dy="39.5" dx="-5.0">)</tspan></text>
<line x1="744.5" y1="189.1" x2="853.5" y2="189.1" stroke="#000" stroke-width="5.8"/>
<text x="874.0" y="207.7" font-size="63" fill="#000"><tspan font-style="italic">a</tspan><tspan font-size="44" dy="14.5">p</tspan><tspan dy="-14.5" dx="-3.0"> measured</tspan></text>
<line x1="744.5" y1="266.1" x2="853.5" y2="266.1" stroke="#ff0d0d" stroke-width="5.8"/>
<text x="874.0" y="281.5" font-size="63" fill="#000"><tspan font-style="italic">a</tspan><tspan font-size="44" dy="14.5">g</tspan><tspan dy="-14.5" dx="-3.0"> measured</tspan></text>
<line x1="745.0" y1="344.1" x2="853.5" y2="344.1" stroke="#00a632" stroke-width="5.8" stroke-dasharray="25.5 21.5"/>
<text x="874.0" y="355.6" font-size="63" fill="#000"><tspan font-style="italic">a</tspan><tspan font-size="44" dy="14.5">ph</tspan><tspan dy="-14.5" dx="-4.0"> modeled</tspan></text>
<line x1="745.0" y1="420.5" x2="853.5" y2="420.5" stroke="#1c3fa5" stroke-width="5.8" stroke-dasharray="25.5 21.5"/>
<text x="874.0" y="430.2" font-size="63" fill="#000"><tspan font-style="italic">a</tspan><tspan font-size="44" dy="14.5">nap</tspan><tspan dy="-14.5" dx="-4.5"> modeled</tspan></text>
</svg></body></html>
